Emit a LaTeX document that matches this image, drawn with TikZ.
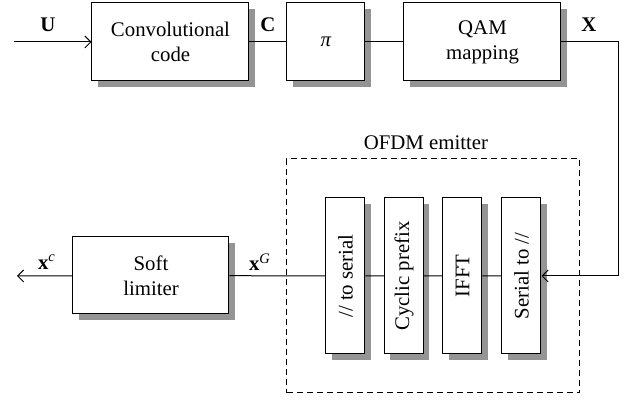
\documentclass[tikz,border=0pt]{standalone}
\usepackage{fontspec}
\setmainfont{Liberation Serif}
\usetikzlibrary{shadows,arrows.meta}

\begin{document}
\begin{tikzpicture}[x=0.5pt,y=-0.5pt,
        every node/.style={font=\rmfamily\fontsize{10.4}{12.5}\selectfont},
        block/.style={draw,fill=white,line width=0.5pt,align=center,inner sep=1pt,
            drop shadow={shadow xshift=3pt,shadow yshift=-3pt,fill=black!42,opacity=1}},
        vblock/.style={block,minimum width=19.5pt,minimum height=78pt},
        link/.style={line width=0.5pt},
        arr/.style={link,-{Straight Barb[length=3pt,width=6pt]}},
        lbl/.style={font=\rmfamily\fontsize{10.4}{12.5}\selectfont\bfseries}]
        \useasboundingbox (0,0) rectangle (629,400);
        % upper chain
        \node[block,minimum width=78.5pt,minimum height=39pt] (conv) at (170.5,42) {Convolutional\\code};
        \node[block,minimum width=39pt,minimum height=39pt] (pi) at (326,42) {\textit{π}};
        \node[block,minimum width=78.5pt,minimum height=39pt] (qam) at (482.5,42) {QAM\\mapping};
        \node[lbl] (uLbl) at (48,25) {U};
        \node[lbl] (cLbl) at (268,25) {C};
        \node[lbl] (xLbl) at (589,25) {X};
        % OFDM emitter
        \node[draw,dashed,dash pattern=on 3pt off 2pt,line width=0.5pt,minimum width=146.5pt,minimum height=117pt] (ofdm) at (433.5,276) {};
        \node (ofdmLbl) at (426,143) {OFDM emitter};
        \node[vblock] (p2s) at (345.5,276) {\rotatebox{90}{// to serial}};
        \node[vblock] (cp) at (404,276) {\rotatebox{90}{Cyclic prefix}};
        \node[vblock] (ifft) at (462.5,276) {\rotatebox{90}{IFFT}};
        \node[vblock] (s2p) at (521.5,276) {\rotatebox{90}{Serial to //}};
        % limiter
        \node[block,minimum width=78pt,minimum height=38.5pt] (lim) at (151,275.5) {Soft\\limiter};
        \node[lbl] (xcLbl) at (47,262) {x\textsuperscript{\normalfont\itshape c}};
        \node[lbl] (xgLbl) at (260,262) {x\textsuperscript{\normalfont\itshape G}};
        % connectors
        \coordinate (in) at (14,42);
        \coordinate (bend) at (619,276);
        \coordinate (out) at (17,276);
        \draw[arr] (in) -- (conv);
        \draw[link] (conv) -- (pi);
        \draw[link] (pi) -- (qam);
        \draw[arr] (qam.east) -| (bend) -- (s2p.east);
        \draw[link] (s2p) -- (ifft) -- (cp) -- (p2s) -- (lim);
        \draw[arr] (lim) -- (out);
    \end{tikzpicture}
\end{document}
